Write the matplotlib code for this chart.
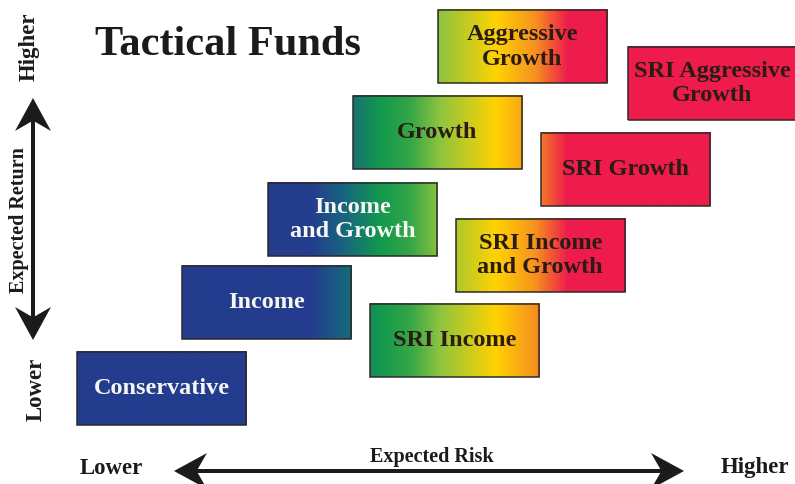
import numpy as np
import matplotlib
matplotlib.use("Agg")
import matplotlib.pyplot as plt
from matplotlib.colors import LinearSegmentedColormap
from matplotlib.patches import Rectangle, Polygon

plt.rcParams['font.family'] = ['Liberation Serif', 'DejaVu Serif']
plt.rcParams['font.weight'] = 'bold'

# fund boxes: expected risk (x) and expected return (y), in grid steps
funds = ["Conservative", "Income", "Income\nand Growth", "Growth", "Aggressive\nGrowth",
         "SRI Income", "SRI Income\nand Growth", "SRI Growth", "SRI Aggressive\nGrowth"]
risk = [0.0, 1.22, 2.23, 3.22, 4.21, 3.42, 4.42, 5.42, 6.43]
ret = [0.0, 1.0, 1.97, 2.99, 3.99, 0.56, 1.55, 2.56, 3.56]
light_text = [True, True, True, False, False, False, False, False, False]

W, H = 795, 484
fig = plt.figure(figsize=(W / 100, H / 100), dpi=100)

# box layer (risk / return units)
ax = fig.add_axes([0, 0, 1, 1])
xmin, xmax = -161.5 / 85.7, (W - 161.5) / 85.7
ymin, ymax = (388.5 - H) / 85.6, 388.5 / 85.6
ax.set_xlim(xmin, xmax)
ax.set_ylim(ymin, ymax)
ax.axis('off')

# colour ramp runs across the whole risk axis
stops = [(0.0, '#233C8D'), (0.39, '#233C8D'), (0.434, '#17677F'), (0.478, '#12994E'),
         (0.516, '#35A647'), (0.553, '#8DC43F'), (0.623, '#FFD302'), (0.673, '#F6921E'),
         (0.714, '#EE1C4C'), (1.0, '#EE1C4C')]
cmap = LinearSegmentedColormap.from_list('risk', stops)

bw, bh = 1.972, 0.853
for name, rx, ry, light in zip(funds, risk, ret, light_text):
    left, right = rx - bw / 2, rx + bw / 2
    bottom, top = ry - bh / 2, ry + bh / 2
    xs = np.linspace(left, right, 300)
    cols = cmap((xs - xmin) / (xmax - xmin))
    ax.imshow(cols[None, :, :], extent=[left, right, bottom, top], aspect='auto',
              interpolation='bilinear', zorder=2)
    ax.add_patch(Rectangle((left, bottom), bw, bh, fill=False, ec='#2e2a28', lw=1.1, zorder=3))
    ax.text(rx, ry, name, ha='center', va='center', fontsize=17.5, fontweight='bold',
            color='#f6f6f2' if light else '#2a1c14', linespacing=1.2, zorder=4)

# decoration layer in pixel units
deco = fig.add_axes([0, 0, 1, 1])
deco.set_xlim(0, W)
deco.set_ylim(H, 0)
deco.axis('off')
deco.patch.set_alpha(0)


def double_arrow(a, b, cross, vertical=False, L=33, hw=18, t=2.0):
    pts = [(a, 0), (a + L, -hw), (a + 0.72 * L, -t), (b - 0.72 * L, -t), (b - L, -hw),
           (b, 0), (b - L, hw), (b - 0.72 * L, t), (a + 0.72 * L, t), (a + L, hw)]
    if vertical:
        pts = [(cross + q, p) for p, q in pts]
    else:
        pts = [(p, cross + q) for p, q in pts]
    deco.add_patch(Polygon(pts, closed=True, fc='#1b1b1b', ec='none'))


double_arrow(174, 684, 471)
double_arrow(98, 340, 33, vertical=True)

fig.text(95 / W, 1 - 45 / H, "Tactical Funds", fontsize=30.5, fontweight='bold',
         ha='left', va='center', color='#1b1b1b')
deco.text(111, 468, "Lower", fontsize=16.5, ha='center', va='center', color='#1b1b1b')
deco.text(755, 468, "Higher", fontsize=16.5, ha='center', va='center', color='#1b1b1b')
deco.text(432, 457, "Expected Risk", fontsize=14.5, ha='center', va='center', color='#1b1b1b')
deco.text(29, 47, "Higher", fontsize=16.5, rotation=90, ha='center', va='center', color='#1b1b1b')
deco.text(36, 389, "Lower", fontsize=16.5, rotation=90, ha='center', va='center', color='#1b1b1b')
deco.text(19, 220, "Expected Return", fontsize=14.5, rotation=90, ha='center', va='center',
          color='#1b1b1b')

fig.savefig("out.png", dpi=100)
